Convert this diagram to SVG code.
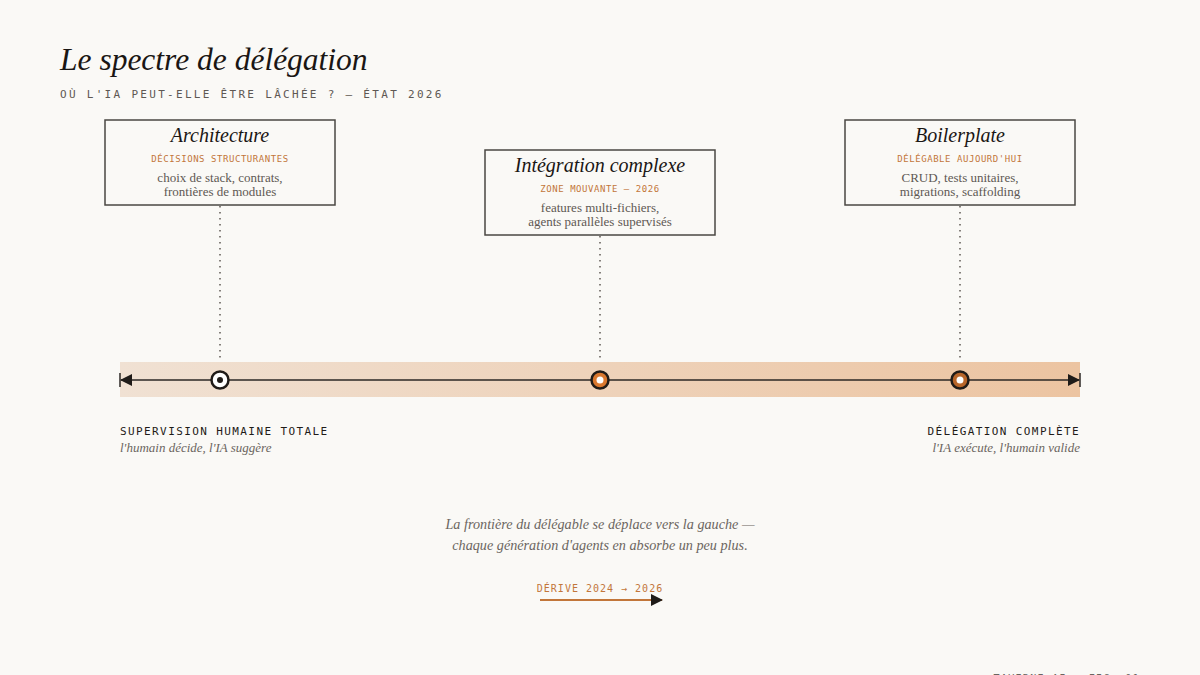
<svg xmlns="http://www.w3.org/2000/svg" width="1200" height="675" viewBox="0 0 1200 675">
<defs>
<linearGradient id="band" x1="0" y1="0" x2="1" y2="0">
<stop offset="0" stop-color="#f0e1d3"/>
<stop offset="1" stop-color="#ecc4a1"/>
</linearGradient>
<marker id="ah" viewBox="0 0 12 12" refX="11" refY="6" markerWidth="12" markerHeight="12" markerUnits="userSpaceOnUse" orient="auto-start-reverse">
<path d="M0,0 L12,6 L0,12 Z" fill="#1f1b18"/>
</marker>
<style>
.title{font-family:"Liberation Serif",serif;font-style:italic;fill:#1a1614}
.mono{font-family:"DejaVu Sans Mono","Liberation Mono",monospace}
.sub{font-size:11px;letter-spacing:2.3px;fill:#5e5853}
.box{fill:#faf9f6;stroke:#4a4743;stroke-width:1.5}
.ntitle{font-family:"Liberation Serif",serif;font-style:italic;font-size:20px;fill:#1a1614;text-anchor:middle}
.tag{font-size:9px;letter-spacing:0.55px;fill:#c2763a;text-anchor:middle}
.body{font-family:"Liberation Serif",serif;font-size:13px;fill:#5e5853;text-anchor:middle}
.dot{stroke:#5e5853;stroke-width:1.5;stroke-dasharray:1.5 4.5;fill:none}
.lab{font-size:11px;letter-spacing:1.4px;fill:#1f1b18}
.it{font-family:"Liberation Serif",serif;font-style:italic;font-size:13px;fill:#6b6560}
.cap{font-family:"Liberation Serif",serif;font-style:italic;font-size:14.2px;fill:#6b6560;text-anchor:middle}
</style>
</defs>
<rect width="1200" height="675" fill="#faf9f6"/>
<text x="60" y="70" class="title" font-size="31.5">Le spectre de délégation</text>
<text x="60" y="98" class="mono sub">OÙ L'IA PEUT-ELLE ÊTRE LÂCHÉE ? — ÉTAT 2026</text>

<rect x="120" y="362" width="960" height="35" fill="url(#band)"/>

<g id="connectors">
<line x1="220" y1="206" x2="220" y2="358" class="dot"/>
<line x1="600" y1="236" x2="600" y2="358" class="dot"/>
<line x1="960" y1="206" x2="960" y2="358" class="dot"/>
<line x1="121" y1="380" x2="1079" y2="380" stroke="#2b2724" stroke-width="1.6" marker-start="url(#ah)" marker-end="url(#ah)"/>
<line x1="120" y1="373" x2="120" y2="387" stroke="#2b2724" stroke-width="1.5"/>
<line x1="1080" y1="373" x2="1080" y2="387" stroke="#2b2724" stroke-width="1.5"/>
<line x1="540" y1="600" x2="662" y2="600" stroke="#c2763a" stroke-width="2" marker-end="url(#ah)"/>
</g>

<g id="node-architecture">
<rect x="105" y="120" width="230" height="85" class="box"/>
<text x="220" y="142" class="ntitle">Architecture</text>
<text x="220" y="162" class="mono tag">DÉCISIONS STRUCTURANTES</text>
<text x="220" y="182" class="body">choix de stack, contrats,</text>
<text x="220" y="196" class="body">frontières de modules</text>
</g>
<g id="node-integration">
<rect x="485" y="150" width="230" height="85" class="box"/>
<text x="600" y="172" class="ntitle">Intégration complexe</text>
<text x="600" y="192" class="mono tag">ZONE MOUVANTE — 2026</text>
<text x="600" y="212" class="body">features multi-fichiers,</text>
<text x="600" y="226" class="body">agents parallèles supervisés</text>
</g>
<g id="node-boilerplate">
<rect x="845" y="120" width="230" height="85" class="box"/>
<text x="960" y="142" class="ntitle">Boilerplate</text>
<text x="960" y="162" class="mono tag">DÉLÉGABLE AUJOURD'HUI</text>
<text x="960" y="182" class="body">CRUD, tests unitaires,</text>
<text x="960" y="196" class="body">migrations, scaffolding</text>
</g>

<g id="marker-architecture">
<circle cx="220" cy="380" r="8.5" fill="#ffffff" stroke="#1f1b18" stroke-width="2.5"/>
<circle cx="220" cy="380" r="3" fill="#1f1b18"/>
</g>
<g id="marker-integration">
<circle cx="600" cy="380" r="8.5" fill="#d9782f" stroke="#1f1b18" stroke-width="2.5"/>
<circle cx="600" cy="380" r="3.5" fill="#ffffff"/>
</g>
<g id="marker-boilerplate">
<circle cx="960" cy="380" r="8.5" fill="#b8662a" stroke="#1f1b18" stroke-width="2.5"/>
<circle cx="960" cy="380" r="3.5" fill="#ffffff"/>
</g>

<g id="label-left">
<text x="120" y="435" class="mono lab">SUPERVISION HUMAINE TOTALE</text>
<text x="120" y="452" class="it">l'humain décide, l'IA suggère</text>
</g>
<g id="label-right">
<text x="1080" y="435" class="mono lab" text-anchor="end">DÉLÉGATION COMPLÈTE</text>
<text x="1080" y="452" class="it" text-anchor="end">l'IA exécute, l'humain valide</text>
</g>

<g id="caption">
<text x="600" y="529" class="cap">La frontière du délégable se déplace vers la gauche —</text>
<text x="600" y="550" class="cap">chaque génération d'agents en absorbe un peu plus.</text>
<text x="600" y="592" class="mono" font-size="10" letter-spacing="1" fill="#c2763a" text-anchor="middle">DÉRIVE 2024 → 2026</text>
</g>
<text x="1140" y="682" class="mono" font-size="10" letter-spacing="1.3" fill="#6b6560" text-anchor="end">TAVERNE AI — FIG. 01</text>
</svg>
